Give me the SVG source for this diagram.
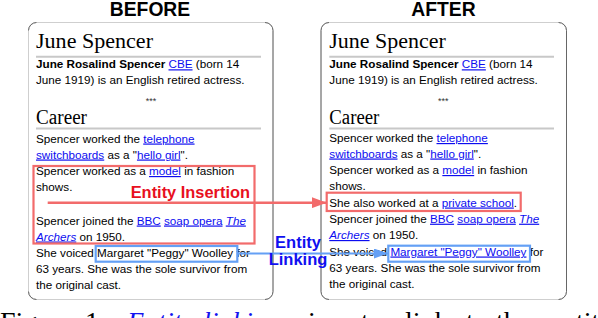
<svg xmlns="http://www.w3.org/2000/svg" width="598" height="318" viewBox="0 0 598 318">
<style>
.body{font-family:"Liberation Sans",Arial,sans-serif;font-size:11.7px;fill:#000}
.b{font-weight:bold}
.link{fill:#0c0cf0;text-decoration:underline}
.it{font-style:italic}
.head{font-family:"Liberation Serif","Times New Roman",serif;font-size:20px;fill:#000}
.rule{stroke:#c8c8c8;stroke-width:2}
.title{font-family:"Liberation Sans",Arial,sans-serif;font-size:19.3px;font-weight:bold;fill:#000;text-anchor:middle}
.frame{fill:#fff;stroke:#cfcfcf;stroke-width:1}
.side{fill:none;stroke:#666;stroke-width:1}
.stars{font-family:"Liberation Sans",Arial,sans-serif;font-size:9px;fill:#333;text-anchor:middle}
.cap{font-family:"Liberation Serif","Times New Roman",serif;font-size:28px;fill:#000}
</style>
<defs>
<marker id="ahRed" markerUnits="userSpaceOnUse" markerWidth="15" markerHeight="11" refX="15" refY="5.5" orient="auto">
<path d="M0,0 L15,5.5 L0,11 z" fill="#f26b6b"/>
</marker>
<marker id="ahBlue" markerUnits="userSpaceOnUse" markerWidth="14" markerHeight="10" refX="14" refY="5" orient="auto">
<path d="M0,0 L14,5 L0,10 z" fill="#64a0f5"/>
</marker>
</defs>
<rect width="598" height="318" fill="#fff"/>

<g id="title-before"><text class="title" x="150" y="16">BEFORE</text></g>
<g id="title-after"><text class="title" x="443.5" y="16">AFTER</text></g>

<g id="panel-before">
<rect class="frame" x="28.5" y="22.5" width="244.5" height="277" rx="8"/>
<path class="side" d="M265,22.5 A8,8 0 0 1 273,30.5 V291.5 A8,8 0 0 1 265,299.5"/>
<path class="side" d="M28.5,30.5 A8,8 0 0 1 36.5,22.5 M28.5,291.5 A8,8 0 0 0 36.5,299.5"/>
<text class="head" x="36" y="48" textLength="117" lengthAdjust="spacingAndGlyphs">June Spencer</text>
<line class="rule" x1="36" y1="56.7" x2="261" y2="56.7"/>
<text class="body" x="36" y="68.3"><tspan class="b">June Rosalind Spencer</tspan> <tspan class="link">CBE</tspan> (born 14</text>
<text class="body" x="36" y="83.5">June 1919) is an English retired actress.</text>
<text class="stars" x="151" y="104">***</text>
<text class="head" x="36" y="124" textLength="51" lengthAdjust="spacingAndGlyphs">Career</text>
<line class="rule" x1="36" y1="128.5" x2="261" y2="128.5"/>
<text class="body" x="36" y="142.5">Spencer worked the <tspan class="link">telephone</tspan></text>
<text class="body" x="36" y="158.5"><tspan class="link">switchboards</tspan> as a "<tspan class="link">hello girl</tspan>".</text>
<text class="body" x="36" y="175">Spencer worked as a <tspan class="link">model</tspan> in fashion</text>
<text class="body" x="36" y="191">shows.</text>
<text class="body" x="36" y="224.5">Spencer joined the <tspan class="link">BBC</tspan> <tspan class="link">soap opera</tspan> <tspan class="link it">The</tspan></text>
<text class="body" x="36" y="240.5"><tspan class="link it">Archers</tspan> on 1950.</text>
<text class="body" x="36" y="257">She voiced Margaret "Peggy" Woolley for</text>
<text class="body" x="36" y="273">63 years. She was the sole survivor from</text>
<text class="body" x="36" y="289">the original cast.</text>
<rect x="33.5" y="166" width="221" height="77.5" fill="none" stroke="#f26b6b" stroke-width="2.2"/>
<rect x="95.7" y="246" width="141.6" height="15.7" fill="none" stroke="#64a0f5" stroke-width="2.2"/>
</g>

<g id="panel-after">
<rect class="frame" x="321" y="22.5" width="245.5" height="277" rx="8"/>
<path class="side" d="M329,22.5 A8,8 0 0 0 321,30.5 V291.5 A8,8 0 0 0 329,299.5"/>
<path class="side" d="M558.5,22.5 A8,8 0 0 1 566.5,30.5 V291.5 A8,8 0 0 1 558.5,299.5"/>
<text class="head" x="329.3" y="48" textLength="116.4" lengthAdjust="spacingAndGlyphs">June Spencer</text>
<line class="rule" x1="329.3" y1="56.7" x2="554" y2="56.7"/>
<text class="body" x="329.3" y="68.3"><tspan class="b">June Rosalind Spencer</tspan> <tspan class="link">CBE</tspan> (born 14</text>
<text class="body" x="329.3" y="83.5">June 1919) is an English retired actress.</text>
<text class="stars" x="443.3" y="104">***</text>
<text class="head" x="329.3" y="124" textLength="50" lengthAdjust="spacingAndGlyphs">Career</text>
<line class="rule" x1="329.3" y1="128.4" x2="554" y2="128.4"/>
<text class="body" x="329.3" y="142">Spencer worked the <tspan class="link">telephone</tspan></text>
<text class="body" x="329.3" y="157.5"><tspan class="link">switchboards</tspan> as a "<tspan class="link">hello girl</tspan>".</text>
<text class="body" x="329.3" y="174">Spencer worked as a <tspan class="link">model</tspan> in fashion</text>
<text class="body" x="329.3" y="190">shows.</text>
<text class="body" x="329.3" y="206.5">She also worked at a <tspan class="link">private school</tspan>.</text>
<text class="body" x="329.3" y="222.7">Spencer joined the <tspan class="link">BBC</tspan> <tspan class="link">soap opera</tspan> <tspan class="link it">The</tspan></text>
<text class="body" x="329.3" y="239"><tspan class="link it">Archers</tspan> on 1950.</text>
<text class="body" x="329.3" y="255.5">She voiced <tspan class="link">Margaret "Peggy" Woolley</tspan> for</text>
<text class="body" x="329.3" y="271.5">63 years. She was the sole survivor from</text>
<text class="body" x="329.3" y="287.5">the original cast.</text>
<rect x="326.7" y="192.7" width="194" height="18.3" fill="none" stroke="#f26b6b" stroke-width="2.2"/>
<rect x="388.3" y="245.7" width="141.7" height="16" fill="none" stroke="#64a0f5" stroke-width="2.2"/>
</g>

<g id="connectors">
<line x1="47.7" y1="202.7" x2="326.7" y2="202.7" stroke="#f26b6b" stroke-width="2.5" marker-end="url(#ahRed)"/>
<line x1="237.3" y1="253.5" x2="388" y2="253.5" stroke="#64a0f5" stroke-width="2" marker-end="url(#ahBlue)"/>
</g>

<g id="label-insertion">
<text x="130.7" y="198.3" style="font-family:'Liberation Sans',Arial,sans-serif;font-size:16.4px;font-weight:bold;fill:#e8101e">Entity Insertion</text>
</g>
<g id="label-linking">
<text x="298" y="248" style="font-family:'Liberation Sans',Arial,sans-serif;font-size:16.5px;font-weight:bold;fill:#1010f0;text-anchor:middle">Entity</text>
<text x="298" y="265" style="font-family:'Liberation Sans',Arial,sans-serif;font-size:16.5px;font-weight:bold;fill:#1010f0;text-anchor:middle">Linking</text>
</g>

<g id="caption">
<text class="cap" x="0" y="331">Figure</text>
<text class="cap" x="85" y="331">1:</text>
<text class="cap it" x="127" y="331" style="fill:#1414f0">Entity</text>
<text class="cap it" x="203" y="331" style="fill:#1414f0">linking</text>
<text class="cap" x="295.5" y="331">aims</text>
<text class="cap" x="361" y="331">to</text>
<text class="cap" x="405" y="331">link</text>
<text class="cap" x="466" y="331">to</text>
<text class="cap" x="496" y="331">the</text>
<text class="cap" x="549.5" y="331">entity</text>
</g>
</svg>
